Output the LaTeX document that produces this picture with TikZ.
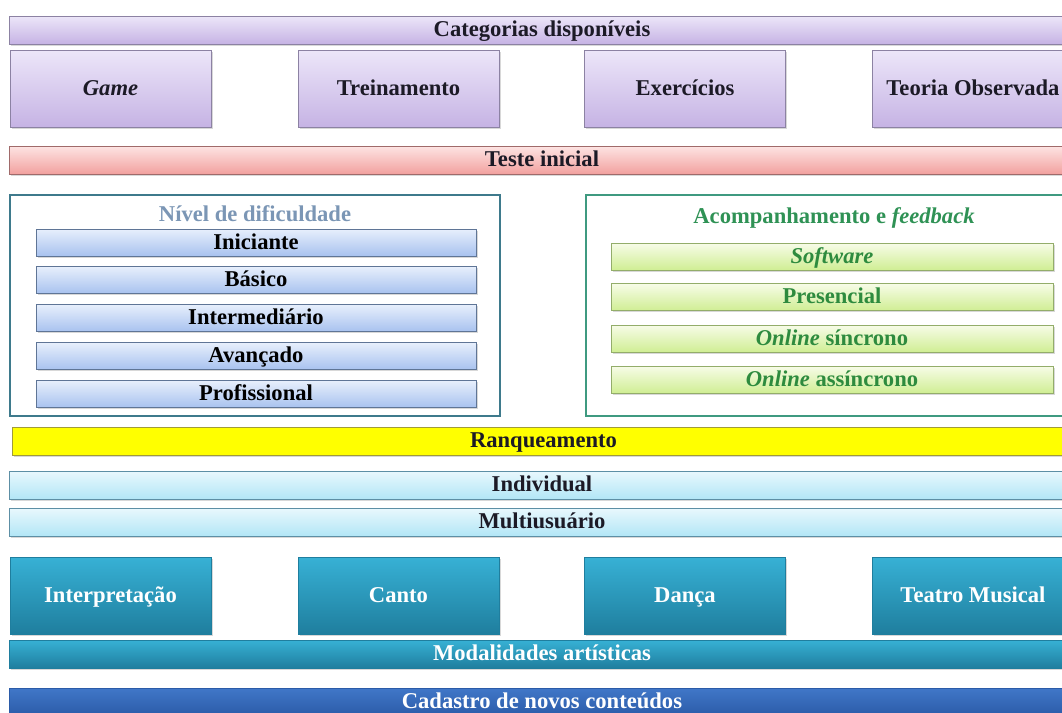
\documentclass[tikz,border=0pt]{standalone}
\usepackage{fontspec}
\setmainfont{Liberation Serif}
\usepackage{xcolor}
\usepackage{tikz}
\usetikzlibrary{shadows}

\definecolor{lilactop}{HTML}{ECE6F9}
\definecolor{lilacbot}{HTML}{C6B3E4}
\definecolor{lilacline}{HTML}{8C82A3}
\definecolor{rosetop}{HTML}{FDE4E3}
\definecolor{rosebot}{HTML}{F2A19F}
\definecolor{roseline}{HTML}{A06A6A}
\definecolor{leveltop}{HTML}{E7EFFC}
\definecolor{levelbot}{HTML}{A8C2EF}
\definecolor{levelline}{HTML}{5F7596}
\definecolor{limetop}{HTML}{F7FCE8}
\definecolor{limebot}{HTML}{D0EE94}
\definecolor{limeline}{HTML}{93AD6A}
\definecolor{limetext}{HTML}{2E8B3E}
\definecolor{rankfill}{HTML}{FFFF00}
\definecolor{rankline}{HTML}{A09B3A}
\definecolor{skytop}{HTML}{E9F8FD}
\definecolor{skybot}{HTML}{B2E6F6}
\definecolor{skyline}{HTML}{5D8FA5}
\definecolor{tealtop}{HTML}{37B1D5}
\definecolor{tealbot}{HTML}{1F7E9E}
\definecolor{navytop}{HTML}{4077C8}
\definecolor{navybot}{HTML}{2B5BA8}
\definecolor{frameleft}{HTML}{3E7A8C}
\definecolor{frameright}{HTML}{3F9A80}
\definecolor{titleleft}{HTML}{7B96B5}
\definecolor{titleright}{HTML}{2F9255}
\definecolor{inkdark}{HTML}{1C1A26}

\begin{document}
\begin{tikzpicture}[x=0.5pt, y=-0.5pt]
            \tikzset{lbl/.style = {font=\fontsize{11.3}{13}\selectfont\bfseries, inner sep=0pt, text height=7.8pt, text depth=1pt}}
            \tikzset{box/.style = {lbl, draw, line width=0.5pt, minimum width=100.5pt, minimum height=38.5pt,
                drop shadow={shadow xshift=0.8pt, shadow yshift=-0.8pt, opacity=0.3}}}
            \tikzset{wide/.style = {box, minimum width=532.5pt, minimum height=14pt}}
            \tikzset{slim/.style = {box, minimum width=220pt, minimum height=13.5pt}}
            \tikzset{lilac/.style = {top color=lilactop, bottom color=lilacbot, draw=lilacline, text=inkdark}}
            \tikzset{teal/.style = {top color=tealtop, bottom color=tealbot, draw=tealbot, text=white}}
            \tikzset{level/.style = {slim, top color=leveltop, bottom color=levelbot, draw=levelline, text=black}}
            \tikzset{lime/.style = {slim, minimum width=221pt, top color=limetop, bottom color=limebot, draw=limeline, text=limetext}}
            \tikzset{sky/.style = {wide, top color=skytop, bottom color=skybot, draw=skyline, text=inkdark}}
            \tikzset{frame/.style = {draw, line width=0.6pt, fill=white, minimum height=110.5pt, inner sep=0pt}}

            \useasboundingbox (0,0) rectangle (1062,713);
            \fill[white] (0,0) rectangle (1062,713);
            \clip (0,0) rectangle (1062,713);

            % categorias
            \node[wide, lilac] (categorias) at (542,30) {Categorias disponíveis};
            \node[box, lilac] (game) at (110.5,88.5) {\textit{Game}};
            \node[box, lilac] (treino) at (398.5,88.5) {Treinamento};
            \node[box, lilac] (exercicios) at (685,88.5) {Exercícios};
            \node[box, lilac] (teoria) at (973,88.5) {Teoria Observada};

            \node[wide, top color=rosetop, bottom color=rosebot, draw=roseline, text=inkdark] (teste) at (542,160) {Teste inicial};

            % niveis
            \node[frame, draw=frameleft, minimum width=245pt] (nivelbox) at (255,305.5) {};
            \node[lbl, text=titleleft] (nivel) at (255,215) {Nível de dificuldade};
            \node[level] (iniciante) at (256,242.5) {Iniciante};
            \node[level] (basico) at (256,280) {Básico};
            \node[level] (intermed) at (256,318) {Intermediário};
            \node[level] (avancado) at (256,356) {Avançado};
            \node[level] (profissional) at (256,394) {Profissional};

            % acompanhamento
            \node[frame, draw=frameright, minimum width=247pt] (acompbox) at (833,305.5) {};
            \node[lbl, text=titleright] (acomp) at (834,217) {Acompanhamento e \textit{feedback}};
            \node[lime] (software) at (832,256.5) {\textit{Software}};
            \node[lime] (presencial) at (832,297) {Presencial};
            \node[lime] (sincrono) at (832,338.5) {\textit{Online} síncrono};
            \node[lime] (assincrono) at (832,379.5) {\textit{Online} assíncrono};

            \node[wide, minimum width=531.5pt, fill=rankfill, draw=rankline, text=inkdark] (ranking) at (543.5,441) {Ranqueamento};
            \node[sky] (individual) at (542,485) {Individual};
            \node[sky] (multi) at (542,522) {Multiusuário};

            % modalidades
            \node[box, teal] (interp) at (110.5,595.5) {Interpretação};
            \node[box, teal] (canto) at (398.5,595.5) {Canto};
            \node[box, teal] (danca) at (685,595.5) {Dança};
            \node[box, teal] (teatro) at (973,595.5) {Teatro Musical};
            \node[wide, teal] (modalidades) at (542,654) {Modalidades artísticas};

            \node[wide, top color=navytop, bottom color=navybot, draw=navybot, text=white] (cadastro) at (542,702) {Cadastro de novos conteúdos};

        \end{tikzpicture}
\end{document}
